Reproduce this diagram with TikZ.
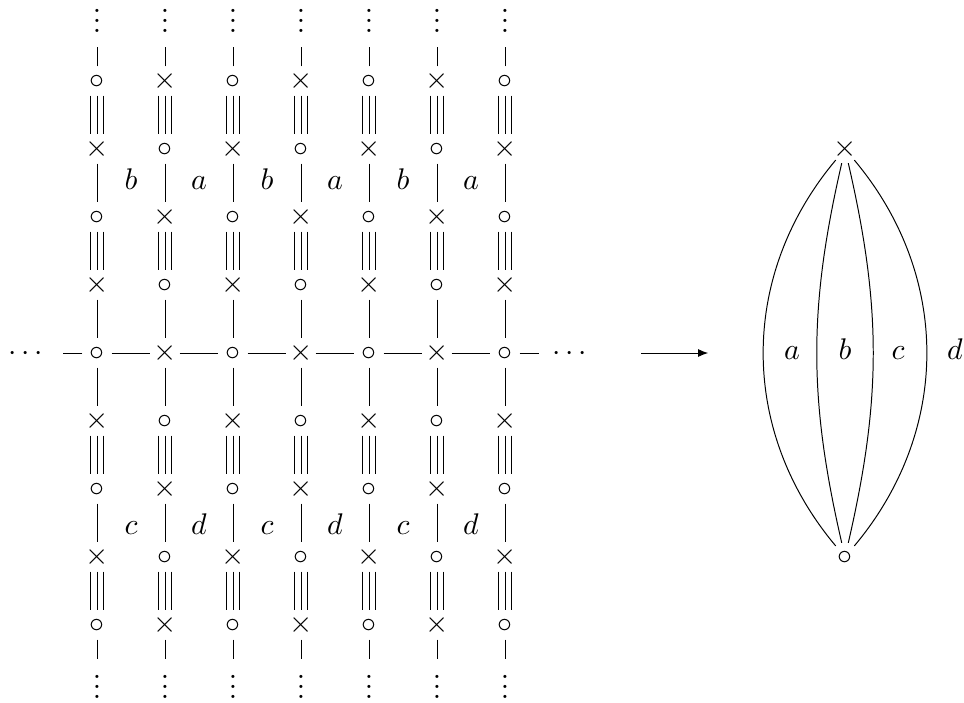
\documentclass[tikz,border=0pt]{standalone}
\usetikzlibrary{arrows.meta}
\newcommand{\myvd}{\vbox{\baselineskip3.4pt\lineskiplimit0pt\hbox{.}\hbox{.}\hbox{.}}}
\begin{document}
\begin{tikzpicture}[line width=0.33pt,
  v/.style={circle, inner sep=0pt, minimum size=0.33cm, text height=5pt, text depth=0pt},
  lab/.style={anchor=base, inner sep=0pt},
  dts/.style={inner sep=0pt},
  hd/.style={anchor=base, inner sep=0pt, yshift=-2.5pt},
  arr/.style={-{Latex[length=3.4pt,width=2.7pt]}}
]
\useasboundingbox (-1.1412,-4.1059) rectangle (10.2,4.1529);
% grid nodes
\foreach \ci in {0,...,6} {
  \foreach \ck in {0,...,8} {
    \pgfmathtruncatemacro\sm{\ci+\ck}
    \node[v] (n\ci\ck) at ({\ci*0.8},{(4-\ck)*0.8}) {\ifodd\sm$\times$\else$\circ$\fi};
  }
}
% vertical connectors
\foreach \ci in {0,...,6} {
  \foreach \ka/\kb in {1/2,3/4,4/5,6/7} \draw (n\ci\ka) -- (n\ci\kb);
  \foreach \ka/\kb in {0/1,2/3,5/6,7/8} {
    \draw (n\ci\ka) -- (n\ci\kb);
    \draw ([xshift=-2.3pt]n\ci\ka.south) -- ([xshift=-2.3pt]n\ci\kb.north);
    \draw ([xshift=2.3pt]n\ci\ka.south) -- ([xshift=2.3pt]n\ci\kb.north);
  }
  \coordinate (t\ci) at ({\ci*0.8},3.6);
  \coordinate (b\ci) at ({\ci*0.8},-3.6);
  \draw (n\ci0) -- (t\ci);
  \draw (n\ci8) -- (b\ci);
  \node[dts] (vt\ci) at ({\ci*0.8},3.91) {\myvd};
  \node[dts] (vb\ci) at ({\ci*0.8},-3.93) {\myvd};
}
% horizontal row
\foreach \ci [evaluate=\ci as \cn using int(\ci+1)] in {0,...,5} \draw (n\ci4) -- (n\cn4);
\coordinate (hl) at (-0.4,0);
\coordinate (hr) at (5.2,0);
\draw (n04) -- (hl);
\draw (n64) -- (hr);
\node[hd] (dl) at (-0.84,0) {$\cdots$};
\node[hd] (dr) at (5.56,0) {$\cdots$};
% face labels
\foreach \tx [count=\cc] in {b,a,b,a,b,a} \node[lab] (lt\cc) at ({(\cc-0.5)*0.8},1.918) {$\tx$};
\foreach \tx [count=\cc] in {c,d,c,d,c,d} \node[lab] (lb\cc) at ({(\cc-0.5)*0.8},-2.133) {$\tx$};
% arrow
\coordinate (as) at (6.4,0);
\coordinate (ae) at (7.19,0);
\draw[arr] (as) -- (ae);
% right figure
\node[v] (X) at (8.8,2.4) {$\times$};
\node[v] (O) at (8.8,-2.4) {$\circ$};
\draw (X) to[bend right=40] (O);
\draw (X) to[bend right=13] (O);
\draw (X) to[bend left=13] (O);
\draw (X) to[bend left=40] (O);
\node[lab] (ra) at (8.176,-0.074) {$a$};
\node[lab] (rb) at (8.8,-0.074) {$b$};
\node[lab] (rc) at (9.424,-0.074) {$c$};
\node[lab] (rd) at (10.094,-0.074) {$d$};
\end{tikzpicture}
\end{document}
